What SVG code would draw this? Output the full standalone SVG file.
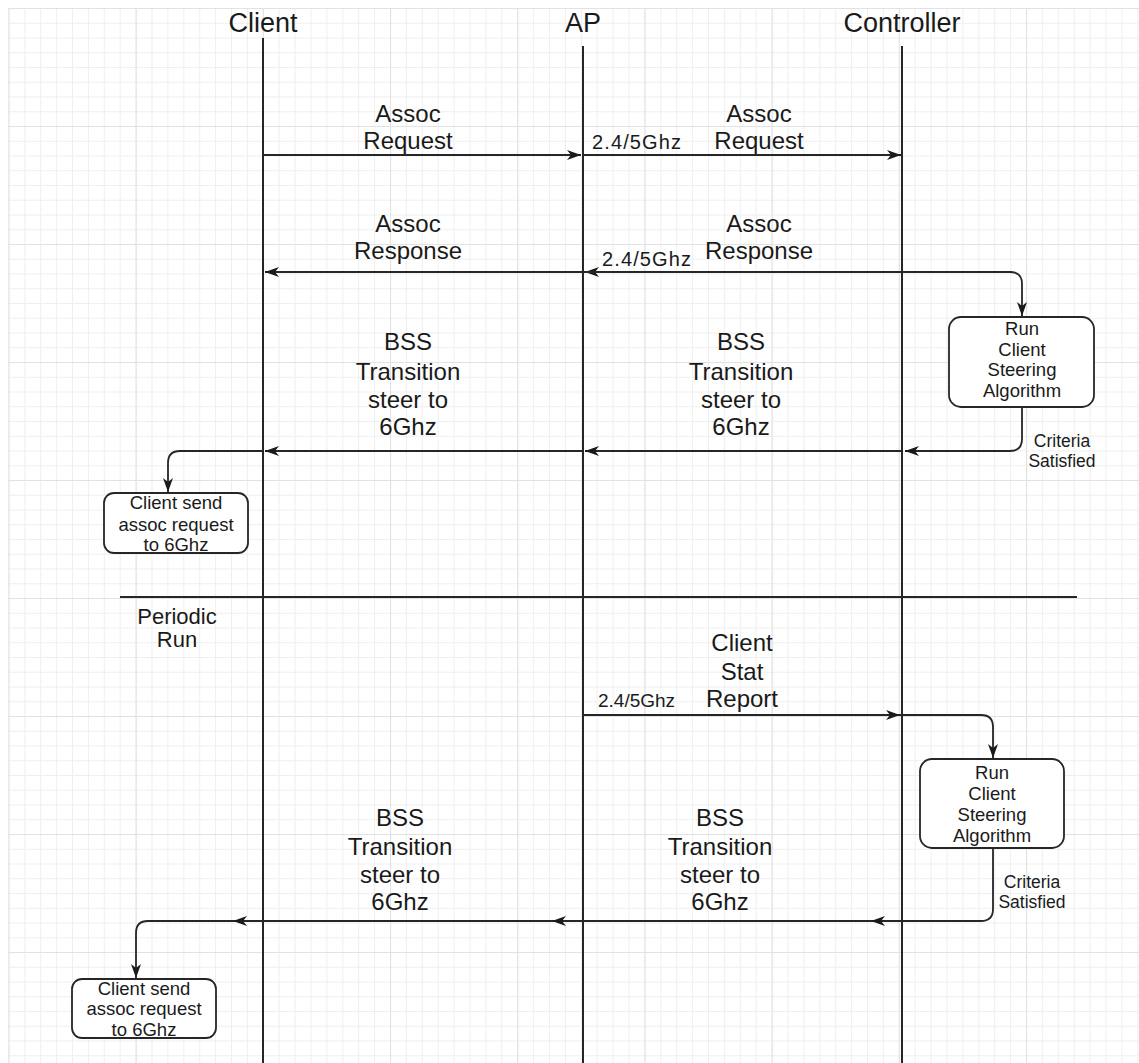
<svg xmlns="http://www.w3.org/2000/svg" width="1139" height="1063" viewBox="0 0 1139 1063">
<style>
text{font-family:"Liberation Sans",Arial,sans-serif;fill:#1a1a1a;text-anchor:middle}
.hdr{font-size:27px}
.msg{font-size:24px}
.frq{font-size:20px;text-anchor:start}
.box{font-size:18.5px}
.crit{font-size:17.5px}
.life{stroke:#262626;stroke-width:2;fill:none}
.conn{stroke:#262626;stroke-width:1.8;fill:none}
.arr{marker-end:url(#ah)}
.node rect{fill:#fff;stroke:#262626;stroke-width:1.8}
</style>
<defs>
<pattern id="gminor" patternUnits="userSpaceOnUse" x="8.4" y="8" width="15.9" height="14.75">
<path d="M0.5,0 V14.75 M0,0.5 H15.9" stroke="#efefef" stroke-width="1" fill="none"/>
</pattern>
<pattern id="gmajor" patternUnits="userSpaceOnUse" x="8.4" y="8" width="127.2" height="118">
<path d="M0.5,0 V118 M0,0.5 H127.2" stroke="#e2e2e2" stroke-width="1.2" fill="none"/>
</pattern>
<marker id="ah" viewBox="0 0 14 10" refX="14" refY="5" markerWidth="14" markerHeight="10" markerUnits="userSpaceOnUse" orient="auto">
<path d="M0,0 L14,5 L0,10 L4,5 Z" fill="#1a1a1a"/>
</marker>
</defs>
<rect width="1139" height="1063" fill="#fff"/>
<rect x="8" y="8" width="1131" height="1055" fill="url(#gminor)"/>
<rect x="8" y="8" width="1131" height="1055" fill="url(#gmajor)"/>

<g id="lifelines">
<g id="client"><text class="hdr" x="263" y="32">Client</text><line class="life" x1="263" y1="38" x2="263" y2="1063"/></g>
<g id="ap"><text class="hdr" x="583" y="32">AP</text><line class="life" x1="583" y1="46" x2="583" y2="1063"/></g>
<g id="controller"><text class="hdr" x="902" y="32">Controller</text><line class="life" x1="902" y1="46" x2="902" y2="1063"/></g>
</g>

<g id="separator">
<line x1="120" y1="597" x2="1077" y2="597" stroke="#262626" stroke-width="1.8"/>
<text style="font-size:22px" x="177" y="624">Periodic</text>
<text style="font-size:22px" x="177" y="647">Run</text>
</g>

<g id="connectors">
<line class="conn arr" x1="263" y1="155" x2="581" y2="155"/>
<line class="conn arr" x1="583" y1="155" x2="901" y2="155"/>
<path class="conn arr" d="M1012,272 H585"/>
<path class="conn arr" d="M583,272 H1010 Q1022,272 1022,284 V316"/>
<line class="conn arr" x1="583" y1="272" x2="265" y2="272"/>
<path class="conn arr" d="M1022,407 V439 Q1022,451 1010,451 H905"/>
<line class="conn arr" x1="902" y1="451" x2="585" y2="451"/>
<line class="conn arr" x1="583" y1="451" x2="265" y2="451"/>
<path class="conn arr" d="M263,451 H180 Q168,451 168,463 V492"/>
<line class="conn arr" x1="583" y1="715" x2="900" y2="715"/>
<path class="conn arr" d="M900,715 H981 Q993,715 993,727 V758"/>
<path class="conn arr" d="M993,848 V909 Q993,921 981,921 H871"/>
<line class="conn arr" x1="871" y1="921" x2="552" y2="921"/>
<line class="conn arr" x1="552" y1="921" x2="233" y2="921"/>
<path class="conn arr" d="M233,921 H148 Q136,921 136,933 V978"/>
</g>

<g id="labels">
<text class="msg" x="408" y="122">Assoc</text>
<text class="msg" x="408" y="149">Request</text>
<text class="frq" x="592" y="149" textLength="89">2.4/5Ghz</text>
<text class="msg" x="759" y="122">Assoc</text>
<text class="msg" x="759" y="149">Request</text>
<text class="msg" x="408" y="232">Assoc</text>
<text class="msg" x="408" y="259">Response</text>
<text class="frq" x="602" y="266" textLength="89">2.4/5Ghz</text>
<text class="msg" x="759" y="232">Assoc</text>
<text class="msg" x="759" y="259">Response</text>
<text class="msg" x="408" y="350">BSS</text>
<text class="msg" x="408" y="380">Transition</text>
<text class="msg" x="408" y="408">steer to</text>
<text class="msg" x="408" y="435">6Ghz</text>
<text class="msg" x="741" y="350">BSS</text>
<text class="msg" x="741" y="380">Transition</text>
<text class="msg" x="741" y="408">steer to</text>
<text class="msg" x="741" y="435">6Ghz</text>
<text class="crit" x="1062" y="447">Criteria</text>
<text class="crit" x="1062" y="467">Satisfied</text>
<text class="msg" x="742" y="651">Client</text>
<text class="msg" x="742" y="680">Stat</text>
<text class="msg" x="742" y="707">Report</text>
<text class="frq" style="font-size:19px" x="598" y="707">2.4/5Ghz</text>
<text class="crit" x="1032" y="888">Criteria</text>
<text class="crit" x="1032" y="908">Satisfied</text>
<text class="msg" x="400" y="826">BSS</text>
<text class="msg" x="400" y="855">Transition</text>
<text class="msg" x="400" y="883">steer to</text>
<text class="msg" x="400" y="910">6Ghz</text>
<text class="msg" x="720" y="826">BSS</text>
<text class="msg" x="720" y="855">Transition</text>
<text class="msg" x="720" y="883">steer to</text>
<text class="msg" x="720" y="910">6Ghz</text>
</g>

<g id="steer1" class="node">
<rect x="949" y="317" width="145" height="90" rx="12"/>
<text class="box" x="1022" y="335">Run</text>
<text class="box" x="1022" y="356">Client</text>
<text class="box" x="1022" y="376">Steering</text>
<text class="box" x="1022" y="397">Algorithm</text>
</g>
<g id="send1" class="node">
<rect x="104" y="493" width="144" height="60" rx="10"/>
<text class="box" x="176" y="509">Client send</text>
<text class="box" x="176" y="531">assoc request</text>
<text class="box" x="176" y="551">to 6Ghz</text>
</g>
<g id="steer2" class="node">
<rect x="920" y="759" width="144" height="89" rx="12"/>
<text class="box" x="992" y="779">Run</text>
<text class="box" x="992" y="800">Client</text>
<text class="box" x="992" y="821">Steering</text>
<text class="box" x="992" y="842">Algorithm</text>
</g>
<g id="send2" class="node">
<rect x="72" y="979" width="144" height="59" rx="10"/>
<text class="box" x="144" y="995">Client send</text>
<text class="box" x="144" y="1015">assoc request</text>
<text class="box" x="144" y="1036">to 6Ghz</text>
</g>
</svg>
